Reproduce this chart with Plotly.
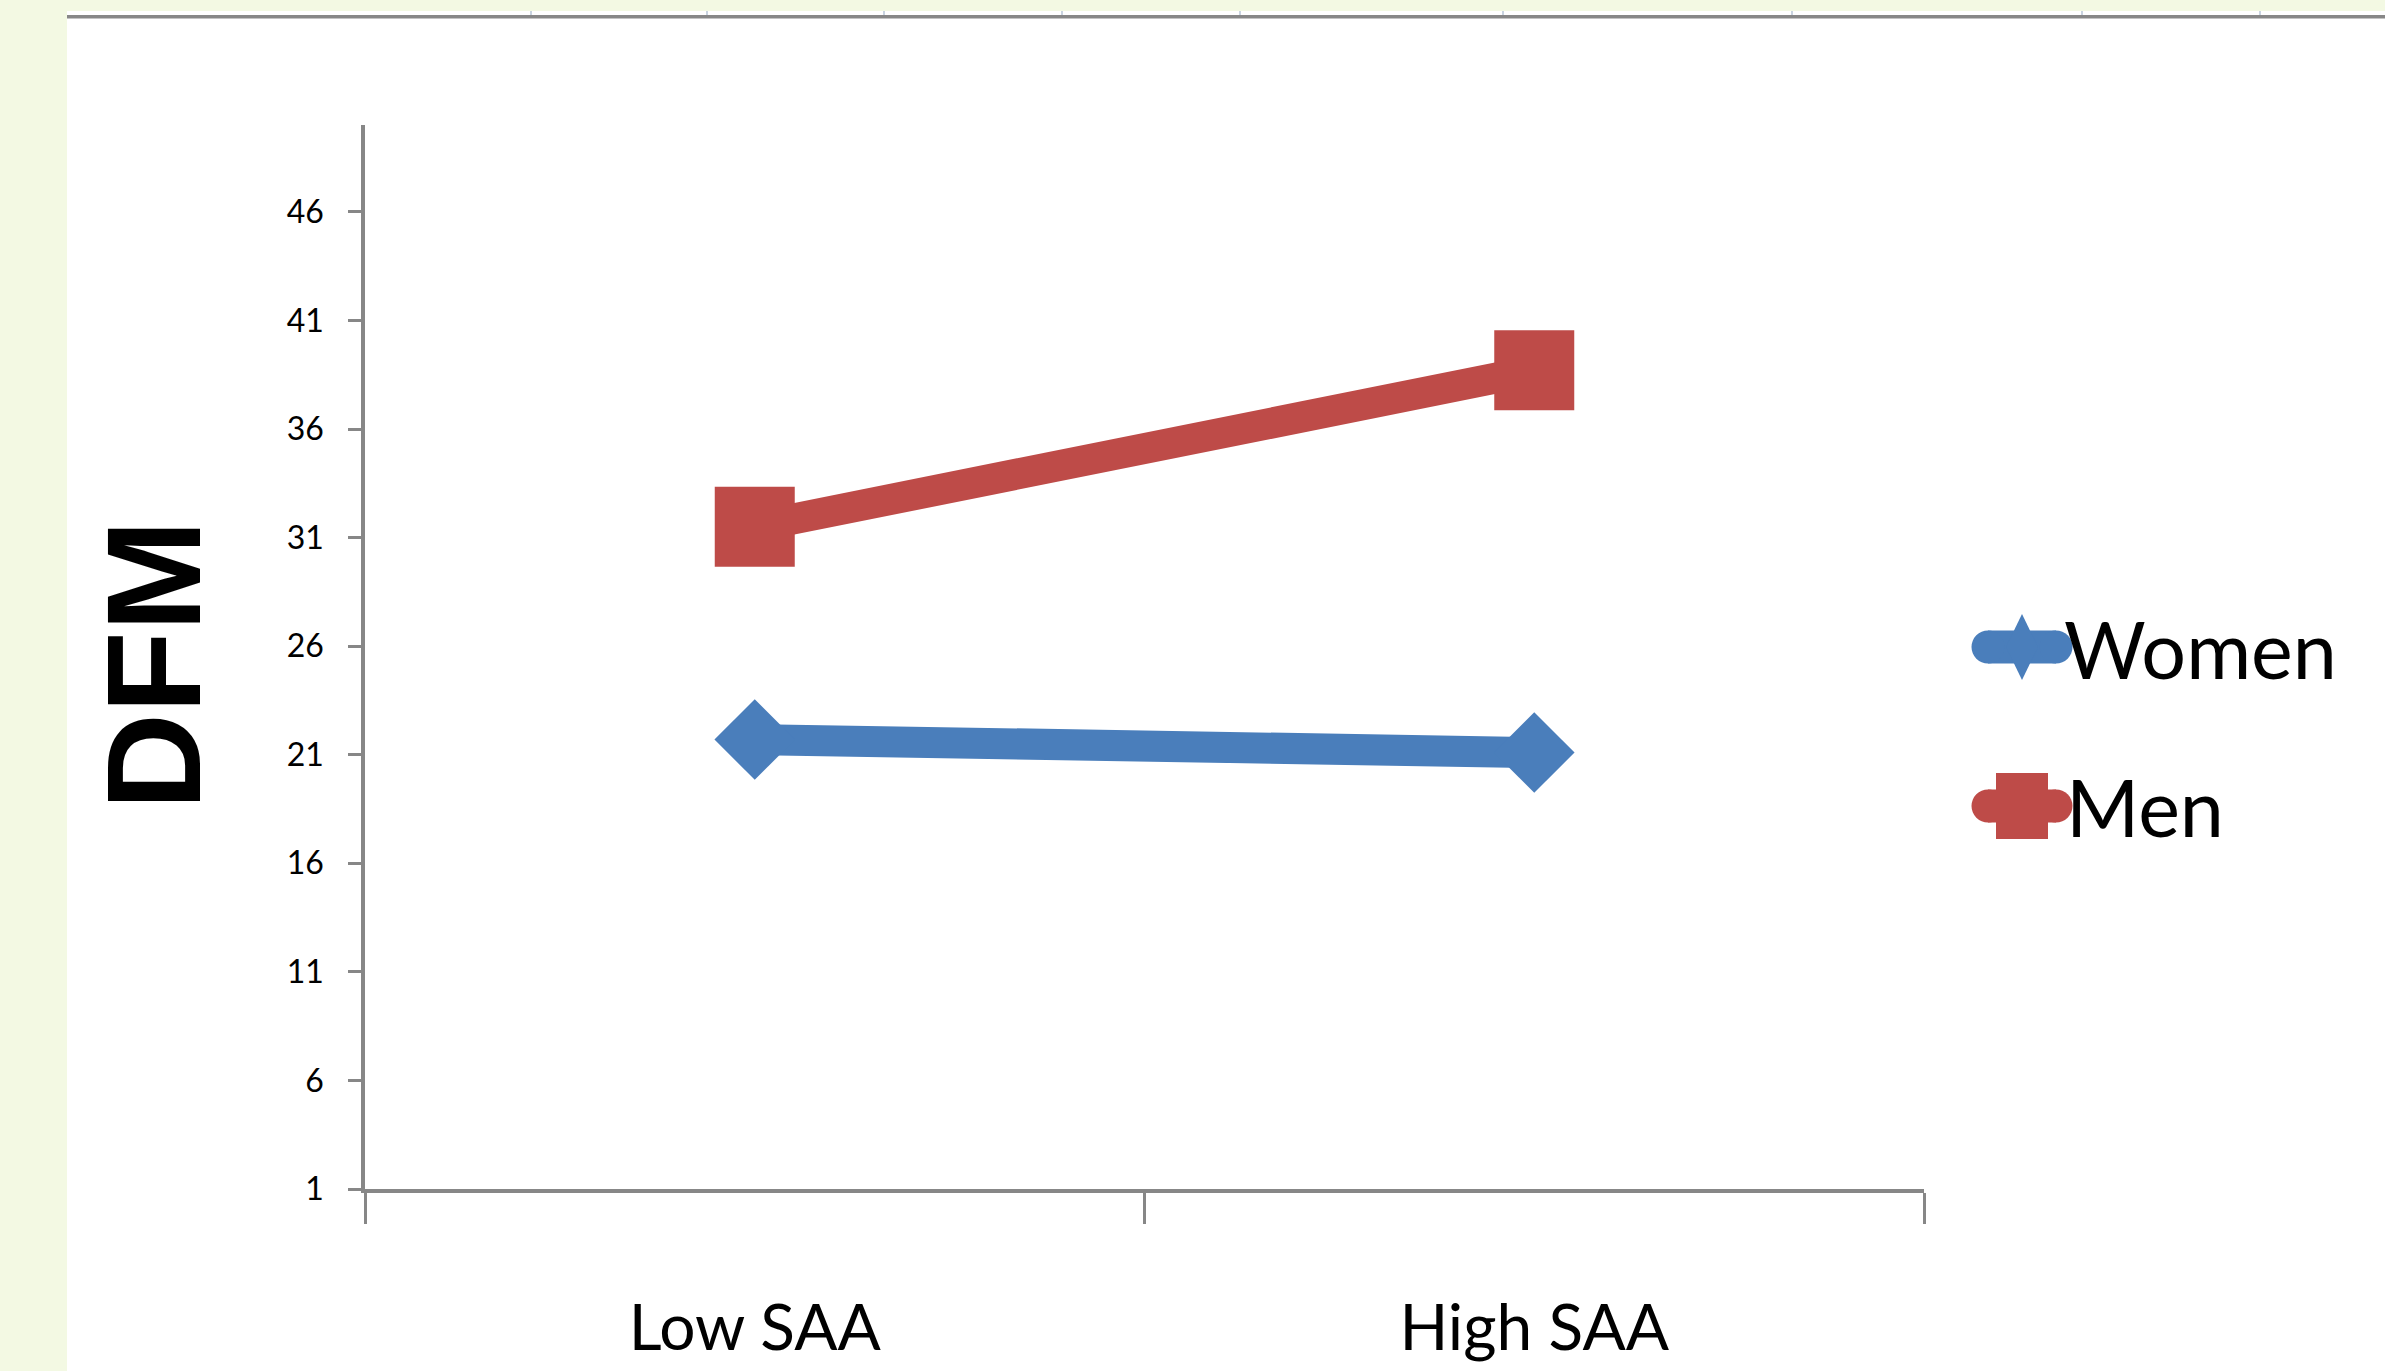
import plotly.graph_objects as go

# ---- data ----
categories = ["Low SAA", "High SAA"]
women = [21.7, 21.1]
men = [31.5, 38.7]
y_ticks = [1, 6, 11, 16, 21, 26, 31, 36, 41, 46]
series_names = ["Women", "Men"]

BLUE = "#4A7EBB"
RED = "#BE4B48"
GRAY = "#878787"
GREEN = "#F3F9E3"

W, H = 2385, 1371
L, R, T, B = 365, 1924, 125, 1189
PW, PH = R - L, B - T


def px2x(px):
    return (px - L) / PW


def py2y(py):
    return (B - py) / PH


fig = go.Figure()
fig.add_trace(go.Scatter(
    x=categories, y=women, name=series_names[0], mode="lines+markers",
    line=dict(color=BLUE, width=31),
    marker=dict(symbol="diamond", size=62, color=BLUE),
))
fig.add_trace(go.Scatter(
    x=categories, y=men, name=series_names[1], mode="lines+markers",
    line=dict(color=RED, width=31),
    marker=dict(symbol="square", size=80, color=RED),
))

shapes = []
# screenshot frame decoration
shapes.append(dict(type="rect", xref="paper", yref="paper",
                   x0=px2x(0), x1=px2x(67), y0=py2y(H), y1=py2y(0),
                   fillcolor=GREEN, line=dict(width=0), layer="below"))
shapes.append(dict(type="rect", xref="paper", yref="paper",
                   x0=px2x(67), x1=px2x(W), y0=py2y(11), y1=py2y(0),
                   fillcolor=GREEN, line=dict(width=0), layer="below"))
shapes.append(dict(type="rect", xref="paper", yref="paper",
                   x0=px2x(67), x1=px2x(W), y0=py2y(18.5), y1=py2y(15),
                   fillcolor=GRAY, line=dict(width=0), layer="below"))
for tx in (531, 707, 884, 1062, 1240, 1503, 1792, 2082, 2260):
    shapes.append(dict(type="line", xref="paper", yref="paper",
                       x0=px2x(tx), x1=px2x(tx), y0=py2y(15), y1=py2y(11),
                       line=dict(color="#B7C6D6", width=1.5), layer="below"))


# custom legend keys (pixel-sized, anchored in paper coords)
def legend_key(cx, cy, color, symbol):
    xa, ya = px2x(cx), py2y(cy)
    base = dict(xref="paper", yref="paper", xsizemode="pixel", ysizemode="pixel",
                xanchor=xa, yanchor=ya)
    out = []
    out.append(dict(type="rect", x0=-34, x1=34, y0=-16.5, y1=16.5,
                    fillcolor=color, line=dict(width=0), **base))
    for c in (-34, 34):
        out.append(dict(type="circle", x0=c - 16.5, x1=c + 16.5, y0=-16.5, y1=16.5,
                        fillcolor=color, line=dict(width=0), **base))
    if symbol == "diamond":
        out.append(dict(type="path", path="M0,33 L16,0 L0,-33 L-16,0 Z",
                        fillcolor=color, line=dict(width=0), **base))
    else:
        out.append(dict(type="rect", x0=-26, x1=26, y0=-33, y1=33,
                        fillcolor=color, line=dict(width=0), **base))
    return out


shapes += legend_key(2022, 647, BLUE, "diamond")
shapes += legend_key(2022, 806, RED, "square")

annotations = [
    dict(text="<b>DFM</b>", x=px2x(153), y=py2y(665), xref="paper", yref="paper",
         textangle=-90, showarrow=False, xanchor="center", yanchor="middle",
         font=dict(family="Liberation Sans, Arial, sans-serif", size=134, color="#000")),
    dict(text=series_names[0], x=px2x(2062), y=py2y(648), xref="paper", yref="paper",
         showarrow=False, xanchor="left", yanchor="middle",
         font=dict(family="Lato, sans-serif", size=79, color="#000")),
    dict(text=series_names[1], x=px2x(2064), y=py2y(806), xref="paper", yref="paper",
         showarrow=False, xanchor="left", yanchor="middle",
         font=dict(family="Lato, sans-serif", size=79, color="#000")),
]

fig.update_layout(
    width=W, height=H,
    margin=dict(l=L, r=W - R, t=T, b=H - B, autoexpand=False),
    paper_bgcolor="white", plot_bgcolor="white",
    showlegend=False,
    shapes=shapes,
    annotations=annotations,
    xaxis=dict(
        type="category", range=[-0.5, 1.5], tickson="boundaries",
        ticks="outside", ticklen=31, tickwidth=3, tickcolor=GRAY,
        showline=True, linewidth=3.5, linecolor=GRAY, showgrid=False,
        tickfont=dict(family="Lato, sans-serif", size=64, color="#000"),
        ticklabelstandoff=80,
    ),
    yaxis=dict(
        range=[1, 50], tickmode="array", tickvals=y_ticks,
        ticktext=[str(v) for v in y_ticks],
        ticks="outside", ticklen=13, tickwidth=2.5, tickcolor=GRAY,
        showline=True, linewidth=3.5, linecolor=GRAY, showgrid=False, zeroline=False,
        tickfont=dict(family="Lato, sans-serif", size=32, color="#000"),
        ticklabelstandoff=18,
    ),
)

fig.write_html(
    "out.html",
    config={"displayModeBar": False},
    post_script="document.body.style.margin='0';document.body.style.overflow='hidden';",
)
